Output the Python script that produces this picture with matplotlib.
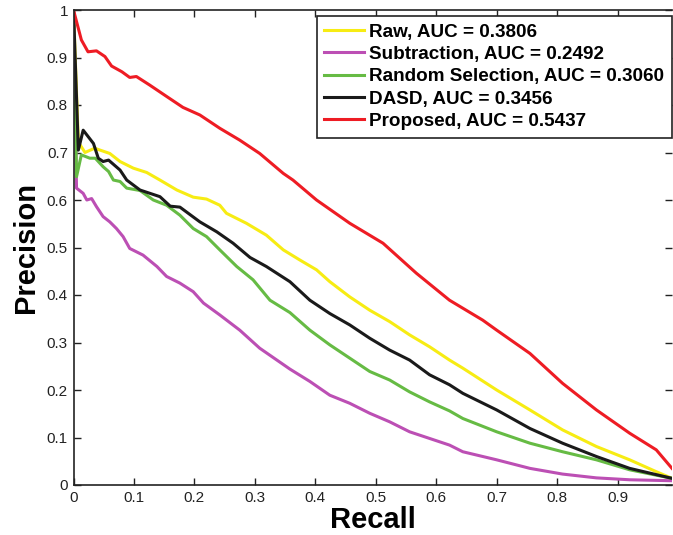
import matplotlib
matplotlib.use("Agg")
import matplotlib.pyplot as plt

plt.rcParams['font.family'] = ['Liberation Sans', 'DejaVu Sans']

raw_r = [0.0, 0.008, 0.019, 0.035, 0.044, 0.060, 0.077, 0.099, 0.121, 0.143, 0.171, 0.198, 0.220, 0.242, 0.253, 0.286,
         0.319, 0.347, 0.374, 0.402, 0.424, 0.457, 0.490, 0.523, 0.556, 0.589, 0.622, 0.644, 0.700, 0.755, 0.809,
         0.865, 0.920, 0.964, 0.99]
raw_p = [1.0, 0.722, 0.700, 0.709, 0.705, 0.698, 0.681, 0.667, 0.658, 0.642, 0.621, 0.606, 0.602, 0.589, 0.572, 0.551,
         0.526, 0.495, 0.474, 0.453, 0.428, 0.396, 0.368, 0.344, 0.316, 0.291, 0.263, 0.246, 0.200, 0.158, 0.116,
         0.081, 0.053, 0.028, 0.014]

sub_r = [0.0, 0.005, 0.016, 0.022, 0.030, 0.038, 0.049, 0.060, 0.071, 0.082, 0.093, 0.115, 0.138, 0.154, 0.176,
         0.198, 0.215, 0.242, 0.275, 0.308, 0.358, 0.391, 0.424, 0.457, 0.490, 0.523, 0.556, 0.589, 0.622, 0.644,
         0.700, 0.755, 0.809, 0.865, 0.920, 0.99]
sub_p = [1.0, 0.625, 0.614, 0.600, 0.603, 0.586, 0.565, 0.554, 0.540, 0.523, 0.498, 0.484, 0.460, 0.439, 0.425,
         0.407, 0.383, 0.358, 0.326, 0.288, 0.244, 0.218, 0.189, 0.172, 0.151, 0.133, 0.112, 0.098, 0.084, 0.070,
         0.053, 0.035, 0.023, 0.015, 0.011, 0.009]

rnd_r = [0.0, 0.005, 0.013, 0.027, 0.036, 0.049, 0.058, 0.066, 0.077, 0.088, 0.110, 0.132, 0.154, 0.176, 0.198,
         0.220, 0.242, 0.270, 0.297, 0.325, 0.358, 0.391, 0.424, 0.457, 0.490, 0.523, 0.556, 0.589, 0.622, 0.644,
         0.700, 0.755, 0.809, 0.865, 0.920, 0.99]
rnd_p = [1.0, 0.649, 0.695, 0.688, 0.688, 0.670, 0.660, 0.642, 0.639, 0.625, 0.620, 0.600, 0.589, 0.568, 0.540,
         0.523, 0.495, 0.460, 0.432, 0.389, 0.363, 0.326, 0.295, 0.267, 0.239, 0.221, 0.196, 0.175, 0.156, 0.140,
         0.112, 0.088, 0.070, 0.053, 0.032, 0.014]

dasd_r = [0.0, 0.008, 0.016, 0.033, 0.041, 0.049, 0.058, 0.077, 0.088, 0.110, 0.143, 0.160, 0.176, 0.209, 0.237,
          0.264, 0.292, 0.319, 0.358, 0.391, 0.424, 0.457, 0.490, 0.523, 0.556, 0.589, 0.622, 0.644, 0.700, 0.755,
          0.809, 0.865, 0.920, 0.99]
dasd_p = [1.0, 0.705, 0.747, 0.719, 0.688, 0.681, 0.684, 0.663, 0.642, 0.621, 0.607, 0.587, 0.585, 0.554, 0.533,
          0.509, 0.479, 0.460, 0.428, 0.389, 0.361, 0.337, 0.309, 0.284, 0.263, 0.232, 0.211, 0.193, 0.158, 0.119,
          0.088, 0.060, 0.035, 0.014]

prop_r = [0.0, 0.013, 0.024, 0.038, 0.052, 0.063, 0.080, 0.093, 0.104, 0.126, 0.154, 0.181, 0.209, 0.242, 0.275,
          0.308, 0.347, 0.363, 0.402, 0.457, 0.512, 0.567, 0.622, 0.677, 0.700, 0.755, 0.809, 0.865, 0.920, 0.964,
          0.99]
prop_p = [1.0, 0.937, 0.912, 0.914, 0.902, 0.882, 0.870, 0.858, 0.860, 0.842, 0.818, 0.795, 0.779, 0.751, 0.726,
          0.698, 0.656, 0.642, 0.600, 0.551, 0.509, 0.446, 0.389, 0.347, 0.326, 0.277, 0.214, 0.158, 0.109, 0.074,
          0.035]

labels = ["Raw, AUC = 0.3806", "Subtraction, AUC = 0.2492", "Random Selection, AUC = 0.3060",
          "DASD, AUC = 0.3456", "Proposed, AUC = 0.5437"]
colors = ["#F7EC13", "#BC4FB4", "#66BB44", "#1A1A1A", "#EE1C24"]

x_ticks = [0, 0.1, 0.2, 0.3, 0.4, 0.5, 0.6, 0.7, 0.8, 0.9]
x_tick_labels = ["0", "0.1", "0.2", "0.3", "0.4", "0.5", "0.6", "0.7", "0.8", "0.9"]
y_ticks = [0, 0.1, 0.2, 0.3, 0.4, 0.5, 0.6, 0.7, 0.8, 0.9, 1.0]
y_tick_labels = ["0", "0.1", "0.2", "0.3", "0.4", "0.5", "0.6", "0.7", "0.8", "0.9", "1"]

fig = plt.figure(figsize=(6.73, 5.35), dpi=100)
ax = fig.add_axes([73.5 / 673, 50 / 535, (672 - 73.5) / 673, 475 / 535])

series = [(raw_r, raw_p), (sub_r, sub_p), (rnd_r, rnd_p), (dasd_r, dasd_p), (prop_r, prop_p)]
for (r, p), lab, c in zip(series, labels, colors):
    ax.plot(r, p, color=c, lw=2.2, label=lab)

ax.set_xlim(0, 0.99)
ax.set_ylim(0, 1)
ax.set_xticks(x_ticks)
ax.set_xticklabels(x_tick_labels)
ax.set_yticks(y_ticks)
ax.set_yticklabels(y_tick_labels)
ax.tick_params(direction='in', top=True, right=True, length=5, width=1, labelsize=11, colors='#222222', pad=4)
for s in ax.spines.values():
    s.set_linewidth(1.2)
    s.set_color('#222222')
ax.spines['right'].set_visible(False)

ax.set_xlabel("Recall", fontsize=21, fontweight='bold', labelpad=1)
ax.set_ylabel("Precision", fontsize=21, fontweight='bold', labelpad=5)

leg = ax.legend(loc='upper right', bbox_to_anchor=(672 / 673, (535 - 16) / 535),
                bbox_transform=fig.transFigure, fancybox=False, framealpha=1,
                edgecolor='#222222', prop={'weight': 'bold', 'size': 13.6},
                handlelength=2.1, handletextpad=0.3, borderpad=0.4, borderaxespad=0,
                labelspacing=0.27)
leg.get_frame().set_linewidth(1.2)

fig.savefig("out.png", dpi=100)
